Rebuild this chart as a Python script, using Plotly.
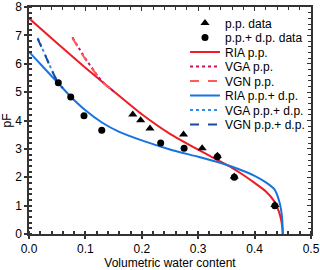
import plotly.graph_objects as go

# Measured data
pp_x = [0.184, 0.198, 0.2145, 0.274, 0.307, 0.334, 0.364, 0.436]
pp_y = [4.21, 4.01, 3.72, 3.51, 3.02, 2.76, 2.03, 1.02]

ppdp_x = [0.052, 0.074, 0.0975, 0.129, 0.2335, 0.275, 0.334, 0.364, 0.436]
ppdp_y = [5.33, 4.83, 4.17, 3.66, 3.21, 3.02, 2.72, 2.00, 1.00]

# Fitted curves
ria_pp_x = [0, 0.05, 0.1, 0.15, 0.2, 0.25, 0.3, 0.34, 0.36, 0.38, 0.4, 0.42, 0.435, 0.443, 0.447, 0.449, 0.45]
ria_pp_y = [7.6, 6.72, 5.86, 5.03, 4.22, 3.53, 2.97, 2.55, 2.33, 2.08, 1.8, 1.5, 1.15, 0.8, 0.5, 0.25, 0]

vga_pp_x = [0.077, 0.09, 0.1, 0.11, 0.12, 0.132, 0.15]
vga_pp_y = [6.93, 6.5, 6.18, 5.9, 5.62, 5.33, 5.03]
vgn_pp_x = [0.077, 0.09, 0.1, 0.11, 0.12, 0.132, 0.15]
vgn_pp_y = [6.9, 6.48, 6.16, 5.88, 5.61, 5.32, 5.03]

ria_ppdp_x = [0, 0.015, 0.03, 0.052, 0.075, 0.1, 0.13, 0.16, 0.2, 0.25, 0.3, 0.34, 0.37, 0.4, 0.42, 0.435, 0.443, 0.447, 0.449, 0.45]
ria_ppdp_y = [6.42, 6.1, 5.78, 5.31, 4.82, 4.36, 3.92, 3.6, 3.3, 2.98, 2.72, 2.5, 2.3, 2.05, 1.82, 1.58, 1.2, 0.85, 0.5, 0]

vga_ppdp_x = [0.0154, 0.02, 0.03, 0.04, 0.052, 0.06]
vga_ppdp_y = [6.91, 6.7, 6.25, 5.8, 5.33, 5.15]
vgn_ppdp_x = [0.0154, 0.02, 0.03, 0.04, 0.052, 0.06]
vgn_ppdp_y = [6.88, 6.68, 6.24, 5.79, 5.32, 5.14]

x_ticks = [0.0, 0.1, 0.2, 0.3, 0.4, 0.5]
y_ticks = [0, 1, 2, 3, 4, 5, 6, 7, 8]

FONT = "Liberation Sans, Arial, sans-serif"

fig = go.Figure()

series = [
    dict(name="p.p. data", x=pp_x, y=pp_y, mode="markers",
         marker=dict(symbol="triangle-up", size=8, color="black")),
    dict(name="p.p.+ d.p. data", x=ppdp_x, y=ppdp_y, mode="markers",
         marker=dict(symbol="circle", size=7, color="black")),
    dict(name="RIA p.p.", x=ria_pp_x, y=ria_pp_y, mode="lines",
         line=dict(color="#ee1c24", width=2, shape="spline", smoothing=0.6)),
    dict(name="VGA p.p.", x=vga_pp_x, y=vga_pp_y, mode="lines",
         line=dict(color="#d0105a", width=2, dash="dot", shape="spline")),
    dict(name="VGN p.p.", x=vgn_pp_x, y=vgn_pp_y, mode="lines",
         line=dict(color="#ff5a5a", width=2, dash="dash", shape="spline")),
    dict(name="RIA p.p.+ d.p.", x=ria_ppdp_x, y=ria_ppdp_y, mode="lines",
         line=dict(color="#1673e0", width=2, shape="spline", smoothing=0.6)),
    dict(name="VGA p.p.+ d.p.", x=vga_ppdp_x, y=vga_ppdp_y, mode="lines",
         line=dict(color="#2f8cf0", width=2, dash="dot", shape="spline")),
    dict(name="VGN p.p.+ d.p.", x=vgn_ppdp_x, y=vgn_ppdp_y, mode="lines",
         line=dict(color="#1a4a9a", width=2, dash="dash", shape="spline")),
]

order = [2, 3, 4, 5, 6, 7, 0, 1]
legend_py = [23, 37.5, 52, 66.5, 81, 95.5, 110, 124.5]
plot_top, plot_bot = 7, 234
legend_layouts = {}
for i in order:
    s = dict(series[i])
    lname = f"legend{i+2}"
    fig.add_trace(go.Scatter(legend=lname, hoverinfo="skip", **s))
    legend_layouts[lname] = dict(
        x=(185 - 29) / 282, xanchor="left",
        y=(plot_bot - legend_py[i]) / (plot_bot - plot_top), yanchor="middle",
        bgcolor="rgba(0,0,0,0)", borderwidth=0,
        font=dict(family=FONT, size=12, color="black"),
    )

fig.add_trace(go.Scatter(x=[None], y=[None], xaxis="x2", yaxis="y2",
                         showlegend=False, hoverinfo="skip"))

axis_common = dict(showgrid=False, zeroline=False, linecolor="#333333",
                   linewidth=1.5, automargin=False)

fig.update_layout(
    width=320, height=270,
    margin=dict(l=29, r=9, t=7, b=36),
    paper_bgcolor="white", plot_bgcolor="white",
    font=dict(family=FONT, size=12, color="black"),
    xaxis=dict(range=[0, 0.5], tickvals=x_ticks, tickformat=".1f",
               ticks="outside", ticklen=3, tickwidth=1.5, tickcolor="#333333",
               minor=dict(dtick=0.02, ticks="inside", ticklen=3, tickcolor="#333333"),
               showline=True, mirror=True,
               title=dict(text="Volumetric water content", standoff=2,
                          font=dict(family=FONT, size=12)),
               tickfont=dict(family=FONT, size=12), **axis_common),
    yaxis=dict(range=[0, 8], tickvals=y_ticks,
               ticks="outside", ticklen=3, tickwidth=1.5, tickcolor="#333333",
               minor=dict(dtick=0.2, ticks="inside", ticklen=3, tickcolor="#333333"),
               showline=True, mirror=True,
               title=dict(text="pF", standoff=2, font=dict(family=FONT, size=12)),
               tickfont=dict(family=FONT, size=12), **axis_common),
    xaxis2=dict(range=[0, 0.5], overlaying="x", side="top", anchor="y2",
                tickvals=x_ticks, ticks="inside", ticklen=4, tickwidth=1.2,
                tickcolor="#333333", showticklabels=False, automargin=False,
                minor=dict(dtick=0.02, ticks="inside", ticklen=3, tickcolor="#333333"),
                showline=False, showgrid=False, zeroline=False),
    yaxis2=dict(range=[0, 8], overlaying="y", side="right", anchor="x2",
                tickvals=y_ticks, ticks="inside", ticklen=4, tickwidth=1.2,
                tickcolor="#333333", showticklabels=False, automargin=False,
                minor=dict(dtick=0.2, ticks="inside", ticklen=3, tickcolor="#333333"),
                showline=False, showgrid=False, zeroline=False),
    **legend_layouts,
)

fig.write_html("out.html", config={"displayModeBar": False},
               post_script="document.body.style.margin='0px';")
